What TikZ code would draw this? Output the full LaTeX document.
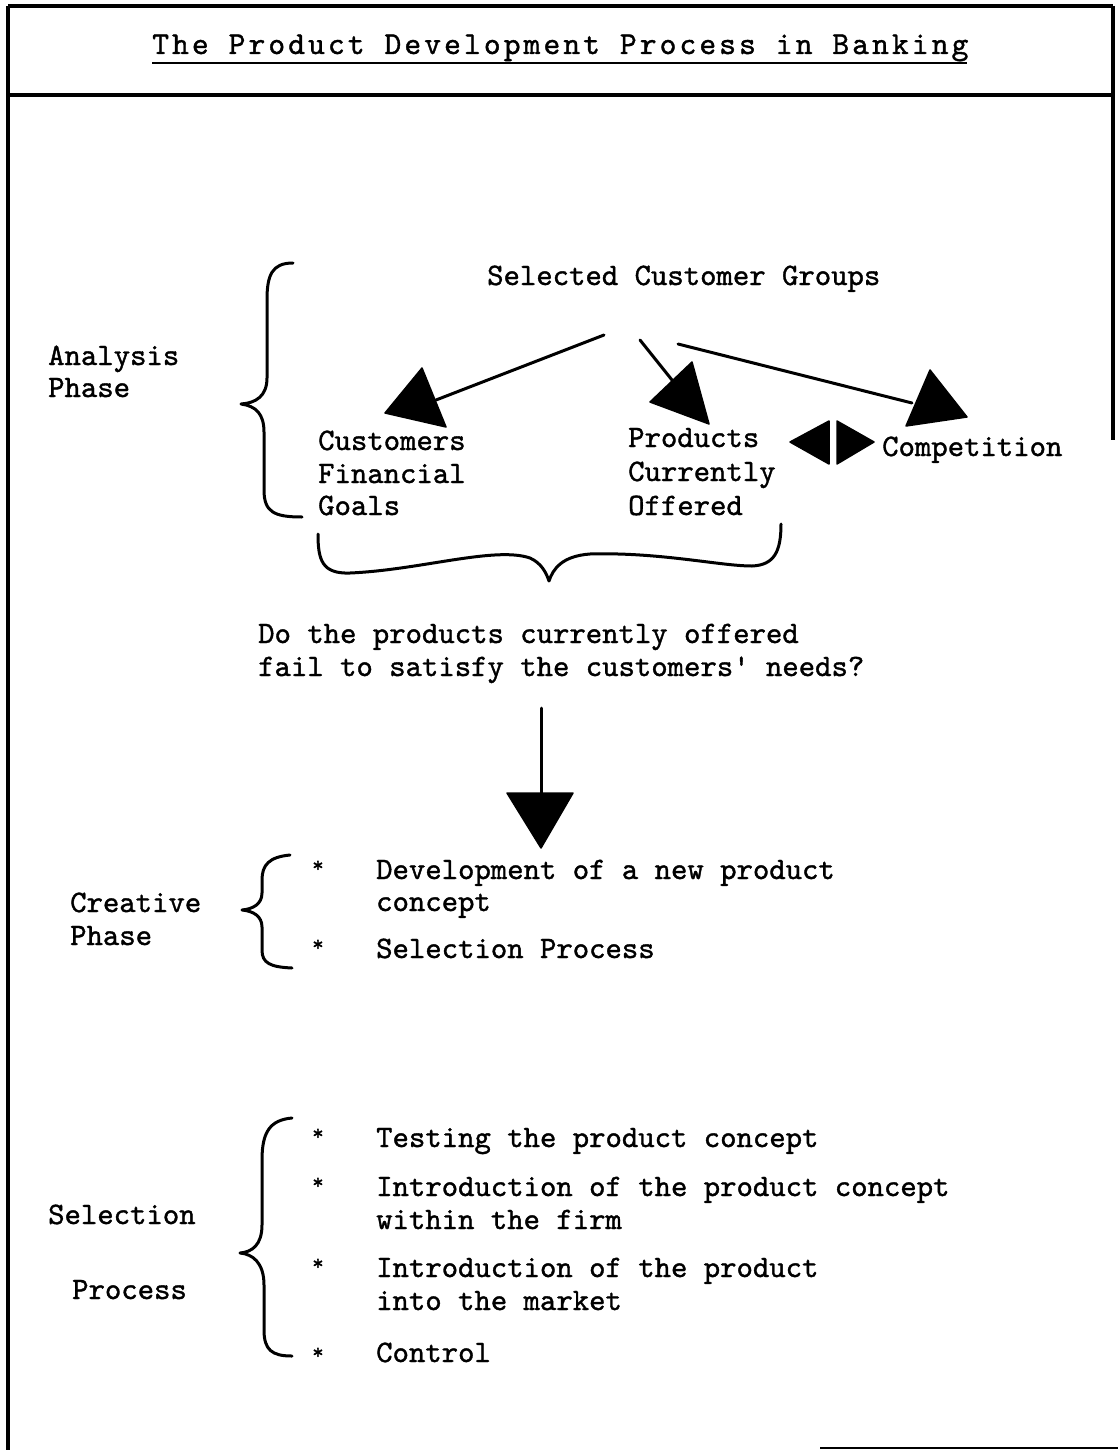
\documentclass[tikz,border=0pt]{standalone}
\usepackage{fontspec}
\newfontfamily\titlefont{lmmono10-regular.otf}[LetterSpace=9.6,FakeBold=1.2]
\newfontfamily\bodyfont{lmmono10-regular.otf}[FakeBold=1.2]
\tikzset{
  txt/.style={font=\bodyfont\fontsize{31.2}{33}\selectfont, inner sep=0pt, anchor=base west},
  startxt/.style={font=\bodyfont\fontsize{22}{24}\selectfont, inner sep=0pt, anchor=base west},
  ttltxt/.style={font=\titlefont\fontsize{32}{36}\selectfont, inner sep=0pt, anchor=base west},
  frame/.style={line width=3.5pt},
  brace/.style={line width=3pt, line cap=round, line join=round},
  conn/.style={line width=3pt, line cap=round},
  head/.style={fill=black, draw=black, line width=1.5pt, line join=round},
}
\begin{document}
\begin{tikzpicture}[x=1pt,y=-1pt]
\useasboundingbox (0,0) rectangle (1118,1450);

% frame
\coordinate (tl) at (8,6);
\coordinate (tr) at (1113,6);
\coordinate (ml) at (8,95);
\coordinate (mr) at (1113,95);
\coordinate (bl) at (8,1450);
\coordinate (rb) at (1113,440);
\coordinate (bb1) at (820,1448);
\coordinate (bb2) at (1118,1448);
\draw[frame] (tl) -- (tr);
\draw[frame] (ml) -- (mr);
\draw[frame] (tl) -- (bl);
\draw[frame] (tr) -- (rb);
\draw[line width=2pt] (bb1) -- (bb2);

% title
\node[ttltxt] (ttl) at (152,54) {The Product Development Process in Banking};
\draw[line width=2pt] ([yshift=-9pt]ttl.base west) -- ([yshift=-9pt,xshift=-2pt]ttl.base east);

% analysis phase
\node[txt] (sel) at (487,285) {Selected Customer Groups};
\node[txt] (ana1) at (48,365) {Analysis};
\node[txt] (ana2) at (48,397) {Phase};
\node[txt] (cus1) at (318,450) {Customers};
\node[txt] (cus2) at (318,483) {Financial};
\node[txt] (cus3) at (318,515) {Goals};
\node[txt] (pro1) at (628,447) {Products};
\node[txt] (pro2) at (628,481) {Currently};
\node[txt] (pro3) at (628,515) {Offered};
\node[txt] (com) at (882,456) {Competition};

\draw[brace] (293,263) .. controls (272,263) and (267,275) .. (267,300) -- (267,378)
  .. controls (267,396) and (256,403) .. (241,404)
  .. controls (256,406) and (264,414) .. (264,432) -- (264,490)
  .. controls (264,512) and (274,517) .. (302,517);

% arrows from selected customer groups
\coordinate (a1s) at (604,335); \coordinate (a1e) at (436,400);
\coordinate (a2s) at (640,340); \coordinate (a2e) at (672,380);
\coordinate (a3s) at (678,344); \coordinate (a3e) at (912,403);
\draw[conn] (a1s) -- (a1e);
\draw[conn] (a2s) -- (a2e);
\draw[conn] (a3s) -- (a3e);
\filldraw[head] (422,368) -- (385,413) -- (446,427) -- cycle;
\filldraw[head] (692,362) -- (650,402) -- (709,424) -- cycle;
\filldraw[head] (930,370) -- (906,426) -- (967,417) -- cycle;

% double arrow between products and competition
\filldraw[head] (790,442) -- (829,421) -- (829,464) -- cycle;
\filldraw[head] (837,421) -- (837,464) -- (874,442) -- cycle;

% bottom brace
\draw[brace] (318,534) .. controls (318,560) and (322,574) .. (350,573)
  .. controls (420,570) and (495,546) .. (530,558)
  .. controls (541,563) and (546,572) .. (549,581)
  .. controls (553,569) and (562,556) .. (590,554)
  .. controls (660,552) and (720,566) .. (752,566)
  .. controls (774,565) and (781,552) .. (781,524);

% question
\node[txt] (q1) at (258,643) {Do the products currently offered};
\node[txt] (q2) at (258,676) {fail to satisfy the customers' needs?};

% down arrow
\coordinate (ds) at (541,708); \coordinate (de) at (541,795);
\draw[conn] (ds) -- (de);
\filldraw[head] (507,793) -- (573,793) -- (541,848) -- cycle;

% creative phase
\node[txt] (cr1) at (70,912) {Creative};
\node[txt] (cr2) at (70,945) {Phase};
\draw[brace] (290,855) .. controls (269,857) and (262,865) .. (262,880) -- (262,893)
  .. controls (262,904) and (253,909) .. (242,910)
  .. controls (253,911) and (262,916) .. (262,927) -- (262,950)
  .. controls (262,963) and (270,967) .. (292,968);
\node[startxt] (st1) at (312,872) {*};
\node[txt] (cp1) at (376,879) {Development of a new product};
\node[txt] (cp2) at (376,911) {concept};
\node[startxt] (st2) at (312,951) {*};
\node[txt] (cp3) at (376,958) {Selection Process};

% selection process
\node[txt] (sp1) at (48,1224) {Selection};
\node[txt] (sp2) at (72,1299) {Process};
\draw[brace] (292,1118) .. controls (270,1120) and (262,1132) .. (262,1160) -- (262,1225)
  .. controls (262,1245) and (252,1252) .. (240,1253)
  .. controls (252,1254) and (264,1262) .. (264,1285) -- (264,1330)
  .. controls (264,1350) and (272,1356) .. (292,1356);
\node[startxt] (st3) at (312,1140) {*};
\node[txt] (se1) at (376,1147) {Testing the product concept};
\node[startxt] (st4) at (312,1189) {*};
\node[txt] (se2) at (376,1196) {Introduction of the product concept};
\node[txt] (se3) at (376,1229) {within the firm};
\node[startxt] (st5) at (312,1270) {*};
\node[txt] (se4) at (376,1277) {Introduction of the product};
\node[txt] (se5) at (376,1310) {into the market};
\node[startxt] (st6) at (312,1359) {*};
\node[txt] (se6) at (376,1362) {Control};
\end{tikzpicture}
\end{document}
